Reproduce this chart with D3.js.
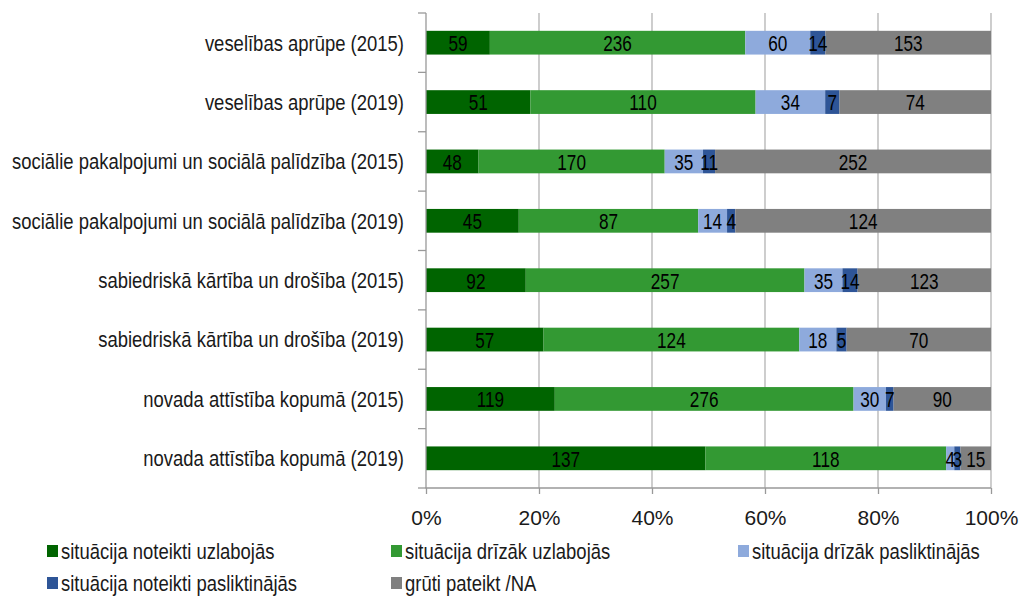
<!DOCTYPE html>
<html><head><meta charset="utf-8">
<script src="https://cdn.jsdelivr.net/npm/d3@7"></script>
<style>body{margin:0;background:#fff;} text{font-family:"Liberation Sans",Arial,sans-serif;}</style>
</head><body><svg id="c" width="1022" height="596"></svg>
<script>
const categories = [
  "veselības aprūpe (2015)",
  "veselības aprūpe (2019)",
  "sociālie pakalpojumi un sociālā palīdzība (2015)",
  "sociālie pakalpojumi un sociālā palīdzība (2019)",
  "sabiedriskā kārtība un drošība (2015)",
  "sabiedriskā kārtība un drošība (2019)",
  "novada attīstība kopumā (2015)",
  "novada attīstība kopumā (2019)"
];
const seriesNames = [
  "situācija noteikti uzlabojās",
  "situācija drīzāk uzlabojās",
  "situācija drīzāk pasliktinājās",
  "situācija noteikti pasliktinājās",
  "grūti pateikt /NA"
];
const noteiktiUzlabojas = [59, 51, 48, 45, 92, 57, 119, 137];
const drizakUzlabojas   = [236, 110, 170, 87, 257, 124, 276, 118];
const drizakPasliktinajas = [60, 34, 35, 14, 35, 18, 30, 4];
const noteiktiPasliktinajas = [14, 7, 11, 4, 14, 5, 7, 3];
const gruti = [153, 74, 252, 124, 123, 70, 90, 15];
const tickLabels = ["0%","20%","40%","60%","80%","100%"];
const colors = ["#006400", "#339933", "#8eaadc", "#2e5597", "#808080"];

const seriesValues = [noteiktiUzlabojas, drizakUzlabojas, drizakPasliktinajas, noteiktiPasliktinajas, gruti];
const rows = categories.map((c, i) => {
  const o = {cat: c};
  seriesNames.forEach((s, j) => o[s] = seriesValues[j][i]);
  return o;
});
const stacked = d3.stack().keys(seriesNames).offset(d3.stackOffsetExpand)(rows);

const svg = d3.select("#c");
const L = 426, R = 991, T = 13, B = 488;
const x = d3.scaleLinear().domain([0, 1]).range([L, R]);
const y = d3.scaleBand().domain(categories).range([T, B]).paddingInner(0.6).paddingOuter(0.3);

function stext(sel, tx, ty, k, size, anchor, str, fill) {
  return sel.append("text")
    .attr("transform", `translate(${tx},${ty}) scale(${k},1)`)
    .attr("dy", "0.36em").attr("text-anchor", anchor)
    .attr("font-size", size).attr("fill", fill || "#1a1a1a").text(str);
}

// gridlines
svg.append("g").selectAll("line").data(d3.range(1, 6)).join("line")
  .attr("x1", d => x(d / 5)).attr("x2", d => x(d / 5))
  .attr("y1", T).attr("y2", B)
  .attr("stroke", "#b3b3b3").attr("stroke-width", 1.3);

// bars
const g = svg.append("g");
stacked.forEach((s, j) => {
  g.append("g").selectAll("rect").data(s).join("rect")
    .attr("x", d => x(d[0])).attr("width", d => x(d[1]) - x(d[0]))
    .attr("y", (d, i) => y(categories[i])).attr("height", y.bandwidth())
    .attr("fill", colors[j]);
});
const lblG = g.append("g");
stacked.forEach((s, j) => {
  s.forEach((d, i) => {
    stext(lblG, (x(d[0]) + x(d[1])) / 2, y(categories[i]) + y.bandwidth() / 2 + 0.5, 0.78, 22, "middle", seriesValues[j][i], "#000");
  });
});

// left axis
const yAxisG = svg.append("g").attr("transform", `translate(${L},0)`);
yAxisG.append("line").attr("x1", 0).attr("x2", 0).attr("y1", T).attr("y2", B).attr("stroke", "#999").attr("stroke-width", 1.3);
const yTicks = d3.range(0, 9).map(i => T + i * (B - T) / 8);
yAxisG.selectAll("line.t").data(yTicks).join("line").attr("class", "t")
  .attr("x1", -8).attr("x2", 0).attr("y1", d => d).attr("y2", d => d)
  .attr("stroke", "#999").attr("stroke-width", 1.3);
categories.forEach(c => stext(yAxisG, -22, y(c) + y.bandwidth() / 2, 0.84, 22, "end", c));

// bottom axis
const xAxis = d3.axisBottom(x).tickValues(d3.range(0, 6).map(d => d / 5))
  .tickFormat((d, i) => tickLabels[i]).tickSize(6).tickPadding(17);
const xg = svg.append("g").attr("transform", `translate(0,${B})`).call(xAxis);
xg.select(".domain").attr("stroke", "#999").attr("stroke-width", 1.3).attr("d", `M${L - 0.5},0H${R}`);
xg.selectAll(".tick line").attr("stroke", "#999").attr("stroke-width", 1.3);
xg.selectAll(".tick text").attr("font-size", 21).attr("fill", "#1a1a1a").attr("y", 22)
  .attr("font-family", "Liberation Sans, Arial, sans-serif");

// legend
const legendPos = [[47, 551], [391, 551], [738, 551], [47, 583], [391, 583]];
const lg = svg.append("g");
seriesNames.forEach((s, j) => {
  const [lx, ly] = legendPos[j];
  lg.append("rect").attr("x", lx).attr("y", ly - 6).attr("width", 11).attr("height", 12).attr("fill", colors[j]);
  stext(lg, lx + 14, ly, 0.84, 22, "start", s);
});
</script></body></html>
